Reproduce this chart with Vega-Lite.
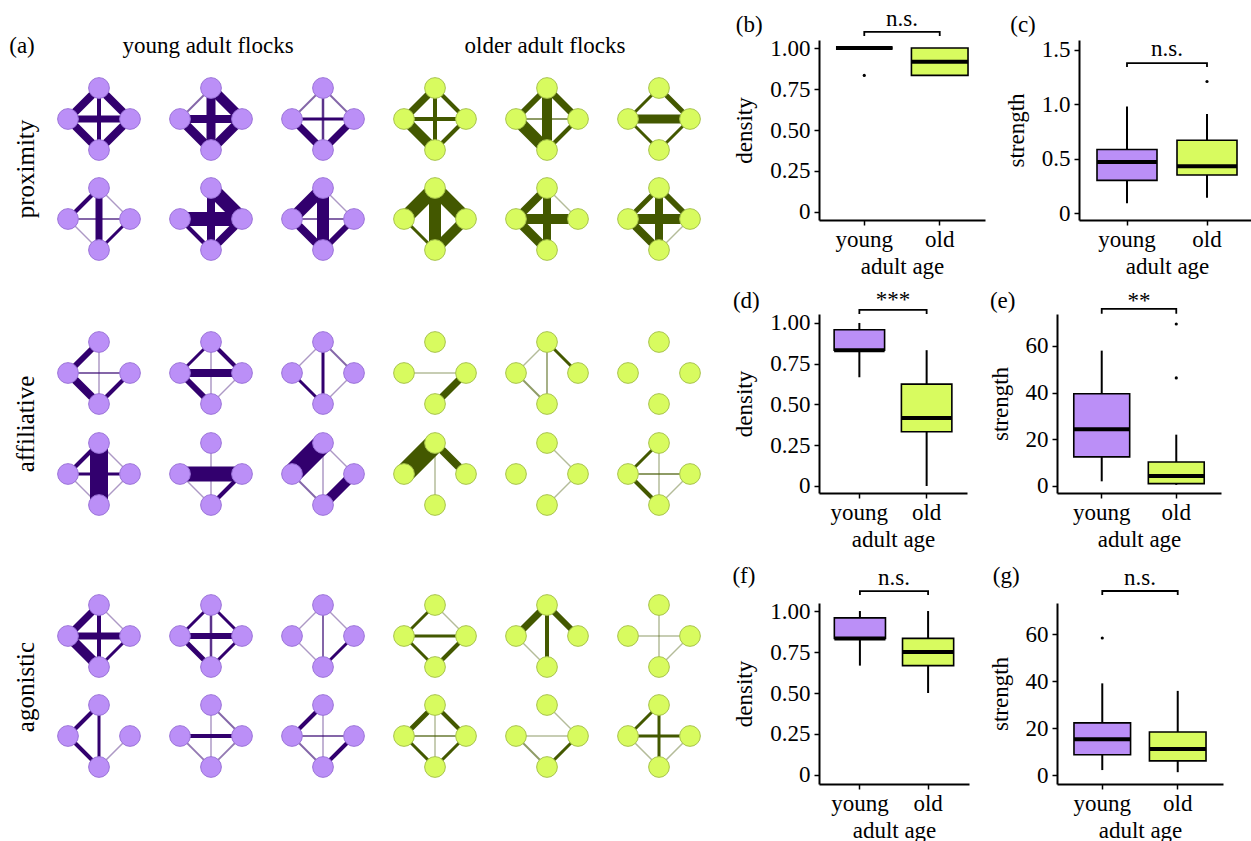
{
"$schema":"https://vega.github.io/schema/vega-lite/v6.json",
"background":"white",
"padding":0,
"columns":3,
"spacing":{"row":94,"column":72},
"align":"each",
"bounds":"flush",
"datasets":{
"n1":[
{"id":"11T","g":"young","x":98,"y":87},{"id":"11L","g":"young","x":67,"y":118},{"id":"11R","g":"young","x":129,"y":118},{"id":"11B","g":"young","x":98,"y":149},
{"id":"12T","g":"young","x":210,"y":87},{"id":"12L","g":"young","x":179,"y":118},{"id":"12R","g":"young","x":241,"y":118},{"id":"12B","g":"young","x":210,"y":149},
{"id":"13T","g":"young","x":322,"y":87},{"id":"13L","g":"young","x":291,"y":118},{"id":"13R","g":"young","x":353,"y":118},{"id":"13B","g":"young","x":322,"y":149},
{"id":"14T","g":"old","x":434,"y":87},{"id":"14L","g":"old","x":403,"y":118},{"id":"14R","g":"old","x":465,"y":118},{"id":"14B","g":"old","x":434,"y":149},
{"id":"15T","g":"old","x":546,"y":87},{"id":"15L","g":"old","x":515,"y":118},{"id":"15R","g":"old","x":577,"y":118},{"id":"15B","g":"old","x":546,"y":149},
{"id":"16T","g":"old","x":658,"y":87},{"id":"16L","g":"old","x":627,"y":118},{"id":"16R","g":"old","x":689,"y":118},{"id":"16B","g":"old","x":658,"y":149},
{"id":"21T","g":"young","x":98,"y":187},{"id":"21L","g":"young","x":67,"y":218},{"id":"21R","g":"young","x":129,"y":218},{"id":"21B","g":"young","x":98,"y":249},
{"id":"22T","g":"young","x":210,"y":187},{"id":"22L","g":"young","x":179,"y":218},{"id":"22R","g":"young","x":241,"y":218},{"id":"22B","g":"young","x":210,"y":249},
{"id":"23T","g":"young","x":322,"y":187},{"id":"23L","g":"young","x":291,"y":218},{"id":"23R","g":"young","x":353,"y":218},{"id":"23B","g":"young","x":322,"y":249},
{"id":"24T","g":"old","x":434,"y":187},{"id":"24L","g":"old","x":403,"y":218},{"id":"24R","g":"old","x":465,"y":218},{"id":"24B","g":"old","x":434,"y":249},
{"id":"25T","g":"old","x":546,"y":187},{"id":"25L","g":"old","x":515,"y":218},{"id":"25R","g":"old","x":577,"y":218},{"id":"25B","g":"old","x":546,"y":249},
{"id":"26T","g":"old","x":658,"y":187},{"id":"26L","g":"old","x":627,"y":218},{"id":"26R","g":"old","x":689,"y":218},{"id":"26B","g":"old","x":658,"y":249}
],
"n2":[
{"id":"31T","g":"young","x":98,"y":341},{"id":"31L","g":"young","x":67,"y":372},{"id":"31R","g":"young","x":129,"y":372},{"id":"31B","g":"young","x":98,"y":403},
{"id":"32T","g":"young","x":210,"y":341},{"id":"32L","g":"young","x":179,"y":372},{"id":"32R","g":"young","x":241,"y":372},{"id":"32B","g":"young","x":210,"y":403},
{"id":"33T","g":"young","x":322,"y":341},{"id":"33L","g":"young","x":291,"y":372},{"id":"33R","g":"young","x":353,"y":372},{"id":"33B","g":"young","x":322,"y":403},
{"id":"34T","g":"old","x":434,"y":341},{"id":"34L","g":"old","x":403,"y":372},{"id":"34R","g":"old","x":465,"y":372},{"id":"34B","g":"old","x":434,"y":403},
{"id":"35T","g":"old","x":546,"y":341},{"id":"35L","g":"old","x":515,"y":372},{"id":"35R","g":"old","x":577,"y":372},{"id":"35B","g":"old","x":546,"y":403},
{"id":"36T","g":"old","x":658,"y":341},{"id":"36L","g":"old","x":627,"y":372},{"id":"36R","g":"old","x":689,"y":372},{"id":"36B","g":"old","x":658,"y":403},
{"id":"41T","g":"young","x":98,"y":442},{"id":"41L","g":"young","x":67,"y":473},{"id":"41R","g":"young","x":129,"y":473},{"id":"41B","g":"young","x":98,"y":504},
{"id":"42T","g":"young","x":210,"y":442},{"id":"42L","g":"young","x":179,"y":473},{"id":"42R","g":"young","x":241,"y":473},{"id":"42B","g":"young","x":210,"y":504},
{"id":"43T","g":"young","x":322,"y":442},{"id":"43L","g":"young","x":291,"y":473},{"id":"43R","g":"young","x":353,"y":473},{"id":"43B","g":"young","x":322,"y":504},
{"id":"44T","g":"old","x":434,"y":442},{"id":"44L","g":"old","x":403,"y":473},{"id":"44R","g":"old","x":465,"y":473},{"id":"44B","g":"old","x":434,"y":504},
{"id":"45T","g":"old","x":546,"y":442},{"id":"45L","g":"old","x":515,"y":473},{"id":"45R","g":"old","x":577,"y":473},{"id":"45B","g":"old","x":546,"y":504},
{"id":"46T","g":"old","x":658,"y":442},{"id":"46L","g":"old","x":627,"y":473},{"id":"46R","g":"old","x":689,"y":473},{"id":"46B","g":"old","x":658,"y":504}
],
"n3":[
{"id":"51T","g":"young","x":98,"y":604},{"id":"51L","g":"young","x":67,"y":635},{"id":"51R","g":"young","x":129,"y":635},{"id":"51B","g":"young","x":98,"y":666},
{"id":"52T","g":"young","x":210,"y":604},{"id":"52L","g":"young","x":179,"y":635},{"id":"52R","g":"young","x":241,"y":635},{"id":"52B","g":"young","x":210,"y":666},
{"id":"53T","g":"young","x":322,"y":604},{"id":"53L","g":"young","x":291,"y":635},{"id":"53R","g":"young","x":353,"y":635},{"id":"53B","g":"young","x":322,"y":666},
{"id":"54T","g":"old","x":434,"y":604},{"id":"54L","g":"old","x":403,"y":635},{"id":"54R","g":"old","x":465,"y":635},{"id":"54B","g":"old","x":434,"y":666},
{"id":"55T","g":"old","x":546,"y":604},{"id":"55L","g":"old","x":515,"y":635},{"id":"55R","g":"old","x":577,"y":635},{"id":"55B","g":"old","x":546,"y":666},
{"id":"56T","g":"old","x":658,"y":604},{"id":"56L","g":"old","x":627,"y":635},{"id":"56R","g":"old","x":689,"y":635},{"id":"56B","g":"old","x":658,"y":666},
{"id":"61T","g":"young","x":98,"y":704},{"id":"61L","g":"young","x":67,"y":735},{"id":"61R","g":"young","x":129,"y":735},{"id":"61B","g":"young","x":98,"y":766},
{"id":"62T","g":"young","x":210,"y":704},{"id":"62L","g":"young","x":179,"y":735},{"id":"62R","g":"young","x":241,"y":735},{"id":"62B","g":"young","x":210,"y":766},
{"id":"63T","g":"young","x":322,"y":704},{"id":"63L","g":"young","x":291,"y":735},{"id":"63R","g":"young","x":353,"y":735},{"id":"63B","g":"young","x":322,"y":766},
{"id":"64T","g":"old","x":434,"y":704},{"id":"64L","g":"old","x":403,"y":735},{"id":"64R","g":"old","x":465,"y":735},{"id":"64B","g":"old","x":434,"y":766},
{"id":"65T","g":"old","x":546,"y":704},{"id":"65L","g":"old","x":515,"y":735},{"id":"65R","g":"old","x":577,"y":735},{"id":"65B","g":"old","x":546,"y":766},
{"id":"66T","g":"old","x":658,"y":704},{"id":"66L","g":"old","x":627,"y":735},{"id":"66R","g":"old","x":689,"y":735},{"id":"66B","g":"old","x":658,"y":766}
],
"e1":[
{"a":"11T","b":"11L","w":8},{"a":"11T","b":"11R","w":8},{"a":"11L","b":"11B","w":8},{"a":"11R","b":"11B","w":8},{"a":"11L","b":"11R","w":7},{"a":"11T","b":"11B","w":4},
{"a":"12T","b":"12L","w":2},{"a":"12T","b":"12R","w":10},{"a":"12L","b":"12B","w":9},{"a":"12R","b":"12B","w":9},{"a":"12L","b":"12R","w":8},{"a":"12T","b":"12B","w":9},
{"a":"13T","b":"13L","w":2},{"a":"13T","b":"13R","w":2},{"a":"13L","b":"13B","w":7},{"a":"13R","b":"13B","w":7},{"a":"13L","b":"13R","w":3},{"a":"13T","b":"13B","w":2.5},
{"a":"14T","b":"14L","w":7},{"a":"14T","b":"14R","w":4},{"a":"14L","b":"14B","w":10},{"a":"14R","b":"14B","w":4},{"a":"14L","b":"14R","w":4},{"a":"14T","b":"14B","w":4},
{"a":"15T","b":"15L","w":6},{"a":"15T","b":"15R","w":7},{"a":"15L","b":"15B","w":12},{"a":"15R","b":"15B","w":4},{"a":"15L","b":"15R","w":2},{"a":"15T","b":"15B","w":10},
{"a":"16T","b":"16L","w":3},{"a":"16T","b":"16R","w":5},{"a":"16L","b":"16B","w":3},{"a":"16R","b":"16B","w":3},{"a":"16L","b":"16R","w":9},
{"a":"21T","b":"21L","w":4},{"a":"21T","b":"21R","w":1.5},{"a":"21L","b":"21B","w":1.5},{"a":"21R","b":"21B","w":3},{"a":"21L","b":"21R","w":2},{"a":"21T","b":"21B","w":7},
{"a":"22T","b":"22R","w":14},{"a":"22L","b":"22B","w":4},{"a":"22R","b":"22B","w":8},{"a":"22L","b":"22R","w":14},{"a":"22T","b":"22B","w":8},
{"a":"23T","b":"23L","w":12},{"a":"23T","b":"23R","w":1.5},{"a":"23L","b":"23B","w":8},{"a":"23R","b":"23B","w":6},{"a":"23L","b":"23R","w":2},{"a":"23T","b":"23B","w":12},
{"a":"24T","b":"24L","w":14},{"a":"24T","b":"24R","w":14},{"a":"24L","b":"24B","w":3},{"a":"24R","b":"24B","w":10},{"a":"24T","b":"24B","w":12},
{"a":"25T","b":"25L","w":8},{"a":"25T","b":"25R","w":1.5},{"a":"25L","b":"25B","w":9},{"a":"25L","b":"25R","w":10},{"a":"25T","b":"25B","w":8},
{"a":"26T","b":"26L","w":5},{"a":"26T","b":"26R","w":6},{"a":"26L","b":"26B","w":8},{"a":"26R","b":"26B","w":1.5},{"a":"26L","b":"26R","w":10},{"a":"26T","b":"26B","w":8}
],
"e2":[
{"a":"31T","b":"31L","w":6},{"a":"31T","b":"31B","w":1.5},{"a":"31L","b":"31R","w":2},{"a":"31L","b":"31B","w":8},{"a":"31R","b":"31B","w":4},
{"a":"32T","b":"32L","w":3},{"a":"32T","b":"32R","w":4},{"a":"32T","b":"32B","w":1.5},{"a":"32L","b":"32R","w":8},{"a":"32L","b":"32B","w":6},{"a":"32R","b":"32B","w":1.5},
{"a":"33T","b":"33L","w":1.5},{"a":"33T","b":"33R","w":2},{"a":"33T","b":"33B","w":3},{"a":"33L","b":"33B","w":3},{"a":"33R","b":"33B","w":1.5},
{"a":"34L","b":"34R","w":1.5},{"a":"34R","b":"34B","w":7},
{"a":"35T","b":"35L","w":1.5},{"a":"35T","b":"35B","w":1.8},{"a":"35T","b":"35R","w":3},{"a":"35L","b":"35B","w":2},
{"a":"41T","b":"41L","w":4},{"a":"41T","b":"41R","w":1.5},{"a":"41L","b":"41R","w":3},{"a":"41L","b":"41B","w":1.5},{"a":"41R","b":"41B","w":1.5},{"a":"41T","b":"41B","w":18},
{"a":"42T","b":"42B","w":1.5},{"a":"42L","b":"42R","w":15},{"a":"42L","b":"42B","w":1.5},{"a":"42R","b":"42B","w":4},
{"a":"43T","b":"43L","w":20},{"a":"43T","b":"43R","w":1.5},{"a":"43T","b":"43B","w":1.5},{"a":"43L","b":"43B","w":2},{"a":"43R","b":"43B","w":10},
{"a":"44T","b":"44L","w":20},{"a":"44T","b":"44R","w":8},{"a":"44T","b":"44B","w":1.5},
{"a":"45T","b":"45R","w":1.5},{"a":"45R","b":"45B","w":1.5},
{"a":"46T","b":"46L","w":3},{"a":"46T","b":"46B","w":1.5},{"a":"46L","b":"46R","w":2},{"a":"46L","b":"46B","w":4},{"a":"46R","b":"46B","w":1.5}
],
"e3":[
{"a":"51T","b":"51L","w":7},{"a":"51T","b":"51R","w":1.5},{"a":"51T","b":"51B","w":4},{"a":"51L","b":"51R","w":7},{"a":"51L","b":"51B","w":10},{"a":"51R","b":"51B","w":3},
{"a":"52T","b":"52L","w":3},{"a":"52T","b":"52R","w":3},{"a":"52T","b":"52B","w":2.5},{"a":"52L","b":"52R","w":6},{"a":"52L","b":"52B","w":5},{"a":"52R","b":"52B","w":3},
{"a":"53T","b":"53L","w":1.5},{"a":"53T","b":"53R","w":1.5},{"a":"53T","b":"53B","w":2},{"a":"53L","b":"53B","w":1.5},{"a":"53R","b":"53B","w":3},
{"a":"54T","b":"54L","w":3},{"a":"54T","b":"54R","w":1.5},{"a":"54L","b":"54R","w":3},{"a":"54L","b":"54B","w":3},{"a":"54R","b":"54B","w":4},
{"a":"55T","b":"55L","w":7},{"a":"55T","b":"55R","w":6},{"a":"55T","b":"55B","w":4},{"a":"55L","b":"55B","w":1.5},
{"a":"56T","b":"56B","w":1.5},{"a":"56L","b":"56R","w":1.5},{"a":"56R","b":"56B","w":1.5},
{"a":"61T","b":"61L","w":4},{"a":"61T","b":"61B","w":3},{"a":"61L","b":"61B","w":4},{"a":"61R","b":"61B","w":1.5},
{"a":"62T","b":"62R","w":2},{"a":"62T","b":"62B","w":1.5},{"a":"62L","b":"62R","w":4},{"a":"62L","b":"62B","w":1.8},{"a":"62R","b":"62B","w":1.8},
{"a":"63T","b":"63L","w":4},{"a":"63T","b":"63B","w":1.5},{"a":"63L","b":"63R","w":2},{"a":"63L","b":"63B","w":2},{"a":"63R","b":"63B","w":4},
{"a":"64T","b":"64L","w":5},{"a":"64T","b":"64R","w":4},{"a":"64T","b":"64B","w":1.5},{"a":"64L","b":"64R","w":2},{"a":"64L","b":"64B","w":3},{"a":"64R","b":"64B","w":3},
{"a":"65T","b":"65R","w":1.5},{"a":"65L","b":"65R","w":1.5},{"a":"65L","b":"65B","w":2},{"a":"65R","b":"65B","w":3},
{"a":"66T","b":"66L","w":3},{"a":"66T","b":"66B","w":3},{"a":"66L","b":"66R","w":3},{"a":"66L","b":"66B","w":1.5},{"a":"66R","b":"66B","w":1.5}
],
"box":[
{"p":"b","age":"young","lower":1,"q1":1,"median":1,"q3":1,"upper":1},
{"p":"b","age":"old","lower":0.833,"q1":0.833,"median":0.917,"q3":1,"upper":1},
{"p":"c","age":"young","lower":0.09,"q1":0.3,"median":0.47,"q3":0.585,"upper":0.98},
{"p":"c","age":"old","lower":0.14,"q1":0.35,"median":0.43,"q3":0.67,"upper":0.91},
{"p":"d","age":"young","lower":0.667,"q1":0.833,"median":0.833,"q3":0.958,"upper":1},
{"p":"d","age":"old","lower":0,"q1":0.333,"median":0.417,"q3":0.625,"upper":0.833},
{"p":"e","age":"young","lower":2,"q1":12.5,"median":24.3,"q3":39.5,"upper":58},
{"p":"e","age":"old","lower":0.5,"q1":1,"median":4.3,"q3":10.3,"upper":22},
{"p":"f","age":"young","lower":0.667,"q1":0.833,"median":0.833,"q3":0.958,"upper":1},
{"p":"f","age":"old","lower":0.5,"q1":0.667,"median":0.75,"q3":0.833,"upper":1},
{"p":"g","age":"young","lower":2.1,"q1":8.6,"median":15.2,"q3":22.2,"upper":39},
{"p":"g","age":"old","lower":1.2,"q1":6,"median":11.1,"q3":18.3,"upper":35.8}
],
"out":[
{"p":"b","age":"young","v":0.833},{"p":"c","age":"old","v":1.21},{"p":"e","age":"old","v":46.3},{"p":"e","age":"old","v":69.4},{"p":"g","age":"young","v":58.3}
],
"br":[
{"p":"b","age":"young","v":1.073,"o":1},{"p":"b","age":"young","v":1.098,"o":2},{"p":"b","age":"old","v":1.098,"o":3},{"p":"b","age":"old","v":1.073,"o":4},
{"p":"c","age":"young","v":1.343,"o":1},{"p":"c","age":"young","v":1.38,"o":2},{"p":"c","age":"old","v":1.38,"o":3},{"p":"c","age":"old","v":1.343,"o":4},
{"p":"d","age":"young","v":1.055,"o":1},{"p":"d","age":"young","v":1.08,"o":2},{"p":"d","age":"old","v":1.08,"o":3},{"p":"d","age":"old","v":1.055,"o":4},
{"p":"e","age":"young","v":73.8,"o":1},{"p":"e","age":"young","v":75.9,"o":2},{"p":"e","age":"old","v":75.9,"o":3},{"p":"e","age":"old","v":73.8,"o":4},
{"p":"f","age":"young","v":1.098,"o":1},{"p":"f","age":"young","v":1.122,"o":2},{"p":"f","age":"old","v":1.122,"o":3},{"p":"f","age":"old","v":1.098,"o":4},
{"p":"g","age":"young","v":76.6,"o":1},{"p":"g","age":"young","v":78.3,"o":2},{"p":"g","age":"old","v":78.3,"o":3},{"p":"g","age":"old","v":76.6,"o":4}
],
"sig":[
{"p":"b","age":"young","v":1.134,"t":"n.s."},
{"p":"c","age":"young","v":1.444,"t":"n.s."},
{"p":"d","age":"young","v":1.098,"t":"***"},
{"p":"e","age":"young","v":76.3,"t":"**"},
{"p":"f","age":"young","v":1.159,"t":"n.s."},
{"p":"g","age":"young","v":80.9,"t":"n.s."}
],
"lab":[
{"p":"b","age":"young","v":1.1405,"t":"(b)"},
{"p":"c","age":"young","v":1.7346,"t":"(c)"},
{"p":"d","age":"young","v":1.1347,"t":"(d)"},
{"p":"e","age":"young","v":79.27,"t":"(e)"},
{"p":"f","age":"young","v":1.2137,"t":"(f)"},
{"p":"g","age":"young","v":84.69,"t":"(g)"}
]
},
"concat":[
{
"width":746,"height":180,
"layer":[
{"data":{"name":"e1"},
 "transform":[{"lookup":"a","from":{"data":{"name":"n1"},"key":"id","fields":["x","y","g"]},"as":["xa","ya","g"]},{"lookup":"b","from":{"data":{"name":"n1"},"key":"id","fields":["x","y"]},"as":["xb","yb"]}],
 "mark":{"type":"rule"},
 "encoding":{
  "x":{"field":"xa","type":"quantitative","scale":{"domain":[0,746],"nice":false,"zero":false},"axis":null},
  "y":{"field":"ya","type":"quantitative","scale":{"domain":[39,219],"reverse":true,"nice":false,"zero":false},"axis":null},
  "x2":{"field":"xb"},"y2":{"field":"yb"},
  "color":{"field":"g","type":"nominal","scale":{"domain":["young","old"],"range":["#32006e","#435800"]},"legend":null},
  "strokeWidth":{"field":"w","type":"quantitative","scale":{"domain":[0,20],"range":[0,20]},"legend":null},
  "opacity":{"field":"w","type":"quantitative","scale":{"domain":[1.5,3],"range":[0.4,1],"clamp":true},"legend":null}
 }},
{"data":{"name":"n1"},
 "mark":{"type":"circle","size":430,"strokeWidth":1,"opacity":1},
 "encoding":{
  "x":{"field":"x","type":"quantitative","scale":{"domain":[0,746],"nice":false,"zero":false},"axis":null},
  "y":{"field":"y","type":"quantitative","scale":{"domain":[39,219],"reverse":true,"nice":false,"zero":false},"axis":null},
  "fill":{"field":"g","type":"nominal","scale":{"domain":["young","old"],"range":["#bb8ff7","#d8fb5f"]},"legend":null},
  "stroke":{"field":"g","type":"nominal","scale":{"domain":["young","old"],"range":["#9b73d9","#a8c44c"]},"legend":null}
 }},
{"data":{"values":[{}]},"mark":{"type":"point","filled":true,"color":"white","size":1,"opacity":1},
 "encoding":{"x":{"datum":0,"type":"quantitative","scale":{"domain":[0,746],"nice":false,"zero":false},"axis":null},"y":{"datum":0,"type":"quantitative","scale":{"domain":[39,219],"reverse":true,"nice":false,"zero":false},"axis":null}}},
{"data":{"values":[{}]},"mark":{"type":"text","text":"(a)","fontSize":23,"align":"center","baseline":"middle"},
 "encoding":{"x":{"datum":21,"type":"quantitative","scale":{"domain":[0,746],"nice":false,"zero":false},"axis":null},"y":{"datum":45,"type":"quantitative","scale":{"domain":[39,219],"reverse":true,"nice":false,"zero":false},"axis":null}}},
{"data":{"values":[{}]},"mark":{"type":"text","text":"young adult flocks","fontSize":23,"align":"center","baseline":"middle"},
 "encoding":{"x":{"datum":207,"type":"quantitative","scale":{"domain":[0,746],"nice":false,"zero":false},"axis":null},"y":{"datum":45,"type":"quantitative","scale":{"domain":[39,219],"reverse":true,"nice":false,"zero":false},"axis":null}}},
{"data":{"values":[{}]},"mark":{"type":"text","text":"older adult flocks","fontSize":23,"align":"center","baseline":"middle"},
 "encoding":{"x":{"datum":544,"type":"quantitative","scale":{"domain":[0,746],"nice":false,"zero":false},"axis":null},"y":{"datum":45,"type":"quantitative","scale":{"domain":[39,219],"reverse":true,"nice":false,"zero":false},"axis":null}}},
{"data":{"values":[{}]},"mark":{"type":"text","text":"proximity","fontSize":25,"align":"center","baseline":"middle","angle":270},
 "encoding":{"x":{"datum":25,"type":"quantitative","scale":{"domain":[0,746],"nice":false,"zero":false},"axis":null},"y":{"datum":168,"type":"quantitative","scale":{"domain":[39,219],"reverse":true,"nice":false,"zero":false},"axis":null}}}
]
},
{
"width":166,"height":180,
"encoding":{"x":{"field":"age","type":"nominal","sort":["young","old"],"scale":{"type":"band","domain":["young","old"],"paddingInner":0.25,"paddingOuter":0.225},"axis":{"title":"adult age","labelAngle":0}}},
"layer":[
{"data":{"name":"box"},"transform":[{"filter":"datum.p=='b'"}],"mark":{"type":"rule","color":"#000","strokeWidth":2},
 "encoding":{"y":{"field":"lower","type":"quantitative","title":"density","scale":{"domain":[-0.049,1.049],"nice":false,"zero":false},"axis":{"values":[0,0.25,0.5,0.75,1],"labelExpr":"datum.value == 0 ? '0' : format(datum.value, '.2f')"}},"y2":{"field":"upper"}}},
{"data":{"name":"box"},"transform":[{"filter":"datum.p=='b'"}],"mark":{"type":"bar","stroke":"#000","strokeWidth":1.6},
 "encoding":{"y":{"field":"q1","type":"quantitative","title":"density","scale":{"domain":[-0.049,1.049],"nice":false,"zero":false}},"y2":{"field":"q3"},
  "fill":{"field":"age","type":"nominal","scale":{"domain":["young","old"],"range":["#bf8ff9","#d6fd5a"]},"legend":null}}},
{"data":{"name":"box"},"transform":[{"filter":"datum.p=='b'"}],"mark":{"type":"tick","color":"#000","thickness":4,"size":56.6,"opacity":1},
 "encoding":{"y":{"field":"median","type":"quantitative","title":"density","scale":{"domain":[-0.049,1.049],"nice":false,"zero":false}}}},
{"data":{"name":"out"},"transform":[{"filter":"datum.p=='b'"}],"mark":{"type":"point","filled":true,"color":"#000","size":10,"opacity":1},
 "encoding":{"y":{"field":"v","type":"quantitative","title":"density","scale":{"domain":[-0.049,1.049],"nice":false,"zero":false}}}},
{"data":{"name":"br"},"transform":[{"filter":"datum.p=='b'"}],"mark":{"type":"line","color":"#000","strokeWidth":1.8},
 "encoding":{"y":{"field":"v","type":"quantitative","title":"density","scale":{"domain":[-0.049,1.049],"nice":false,"zero":false}},"order":{"field":"o","type":"quantitative"}}},
{"data":{"name":"sig"},"transform":[{"filter":"datum.p=='b'"}],"mark":{"type":"text","dx":37.7,"fontSize":23,"align":"center","baseline":"alphabetic"},
 "encoding":{"y":{"field":"v","type":"quantitative","title":"density","scale":{"domain":[-0.049,1.049],"nice":false,"zero":false}},"text":{"field":"t"}}},
{"data":{"name":"lab"},"transform":[{"filter":"datum.p=='b'"}],"mark":{"type":"text","dx":-115,"fontSize":23,"align":"center","baseline":"middle"},
 "encoding":{"y":{"field":"v","type":"quantitative","title":"density","scale":{"domain":[-0.049,1.049],"nice":false,"zero":false}},"text":{"field":"t"}}}
]
},
{
"width":198,"height":180,
"encoding":{"x":{"field":"age","type":"nominal","sort":["young","old"],"scale":{"type":"band","domain":["young","old"],"range":[22,198],"paddingInner":0.25,"paddingOuter":0.225},"axis":{"title":"adult age","labelAngle":0}}},
"layer":[
{"data":{"name":"box"},"transform":[{"filter":"datum.p=='c'"}],"mark":{"type":"rule","color":"#000","strokeWidth":2},
 "encoding":{"y":{"field":"lower","type":"quantitative","title":"strength","scale":{"domain":[-0.0644,1.592],"nice":false,"zero":false},"axis":{"offset":-22,"values":[0,0.5,1,1.5],"labelExpr":"datum.value == 0 ? '0' : format(datum.value, '.1f')"}},"y2":{"field":"upper"}}},
{"data":{"name":"box"},"transform":[{"filter":"datum.p=='c'"}],"mark":{"type":"bar","stroke":"#000","strokeWidth":1.6},
 "encoding":{"y":{"field":"q1","type":"quantitative","title":"strength","scale":{"domain":[-0.0644,1.592],"nice":false,"zero":false}},"y2":{"field":"q3"},
  "fill":{"field":"age","type":"nominal","scale":{"domain":["young","old"],"range":["#bf8ff9","#d6fd5a"]},"legend":null}}},
{"data":{"name":"box"},"transform":[{"filter":"datum.p=='c'"}],"mark":{"type":"tick","color":"#000","thickness":4,"size":60,"opacity":1},
 "encoding":{"y":{"field":"median","type":"quantitative","title":"strength","scale":{"domain":[-0.0644,1.592],"nice":false,"zero":false}}}},
{"data":{"name":"out"},"transform":[{"filter":"datum.p=='c'"}],"mark":{"type":"point","filled":true,"color":"#000","size":10,"opacity":1},
 "encoding":{"y":{"field":"v","type":"quantitative","title":"strength","scale":{"domain":[-0.0644,1.592],"nice":false,"zero":false}}}},
{"data":{"name":"br"},"transform":[{"filter":"datum.p=='c'"}],"mark":{"type":"line","color":"#000","strokeWidth":1.8},
 "encoding":{"y":{"field":"v","type":"quantitative","title":"strength","scale":{"domain":[-0.0644,1.592],"nice":false,"zero":false}},"order":{"field":"o","type":"quantitative"}}},
{"data":{"name":"sig"},"transform":[{"filter":"datum.p=='c'"}],"mark":{"type":"text","dx":40,"fontSize":23,"align":"center","baseline":"alphabetic"},
 "encoding":{"y":{"field":"v","type":"quantitative","title":"strength","scale":{"domain":[-0.0644,1.592],"nice":false,"zero":false}},"text":{"field":"t"}}},
{"data":{"name":"lab"},"transform":[{"filter":"datum.p=='c'"}],"mark":{"type":"text","dx":-104,"fontSize":23,"align":"center","baseline":"middle"},
 "encoding":{"y":{"field":"v","type":"quantitative","title":"strength","scale":{"domain":[-0.0644,1.592],"nice":false,"zero":false}},"text":{"field":"t"}}}
]
},
{
"width":746,"height":195,
"layer":[
{"data":{"name":"e2"},
 "transform":[{"lookup":"a","from":{"data":{"name":"n2"},"key":"id","fields":["x","y","g"]},"as":["xa","ya","g"]},{"lookup":"b","from":{"data":{"name":"n2"},"key":"id","fields":["x","y"]},"as":["xb","yb"]}],
 "mark":{"type":"rule"},
 "encoding":{
  "x":{"field":"xa","type":"quantitative","scale":{"domain":[0,746],"nice":false,"zero":false},"axis":null},
  "y":{"field":"ya","type":"quantitative","scale":{"domain":[313,508],"reverse":true,"nice":false,"zero":false},"axis":null},
  "x2":{"field":"xb"},"y2":{"field":"yb"},
  "color":{"field":"g","type":"nominal","scale":{"domain":["young","old"],"range":["#32006e","#435800"]},"legend":null},
  "strokeWidth":{"field":"w","type":"quantitative","scale":{"domain":[0,20],"range":[0,20]},"legend":null},
  "opacity":{"field":"w","type":"quantitative","scale":{"domain":[1.5,3],"range":[0.4,1],"clamp":true},"legend":null}
 }},
{"data":{"name":"n2"},
 "mark":{"type":"circle","size":430,"strokeWidth":1,"opacity":1},
 "encoding":{
  "x":{"field":"x","type":"quantitative","scale":{"domain":[0,746],"nice":false,"zero":false},"axis":null},
  "y":{"field":"y","type":"quantitative","scale":{"domain":[313,508],"reverse":true,"nice":false,"zero":false},"axis":null},
  "fill":{"field":"g","type":"nominal","scale":{"domain":["young","old"],"range":["#bb8ff7","#d8fb5f"]},"legend":null},
  "stroke":{"field":"g","type":"nominal","scale":{"domain":["young","old"],"range":["#9b73d9","#a8c44c"]},"legend":null}
 }},
{"data":{"values":[{}]},"mark":{"type":"text","text":"affiliative","fontSize":25,"align":"center","baseline":"middle","angle":270},
 "encoding":{"x":{"datum":25,"type":"quantitative","scale":{"domain":[0,746],"nice":false,"zero":false},"axis":null},"y":{"datum":423,"type":"quantitative","scale":{"domain":[313,508],"reverse":true,"nice":false,"zero":false},"axis":null}}}
]
},
{
"width":148,"height":179,
"encoding":{"x":{"field":"age","type":"nominal","sort":["young","old"],"scale":{"type":"band","domain":["young","old"],"paddingInner":0.25,"paddingOuter":0.225},"axis":{"title":"adult age","labelAngle":0}}},
"layer":[
{"data":{"name":"box"},"transform":[{"filter":"datum.p=='d'"}],"mark":{"type":"rule","color":"#000","strokeWidth":2},
 "encoding":{"y":{"field":"lower","type":"quantitative","title":"density","scale":{"domain":[-0.043,1.055],"nice":false,"zero":false},"axis":{"values":[0,0.25,0.5,0.75,1],"labelExpr":"datum.value == 0 ? '0' : format(datum.value, '.2f')"}},"y2":{"field":"upper"}}},
{"data":{"name":"box"},"transform":[{"filter":"datum.p=='d'"}],"mark":{"type":"bar","stroke":"#000","strokeWidth":1.6},
 "encoding":{"y":{"field":"q1","type":"quantitative","title":"density","scale":{"domain":[-0.043,1.055],"nice":false,"zero":false}},"y2":{"field":"q3"},
  "fill":{"field":"age","type":"nominal","scale":{"domain":["young","old"],"range":["#bf8ff9","#d6fd5a"]},"legend":null}}},
{"data":{"name":"box"},"transform":[{"filter":"datum.p=='d'"}],"mark":{"type":"tick","color":"#000","thickness":4,"size":50.5,"opacity":1},
 "encoding":{"y":{"field":"median","type":"quantitative","title":"density","scale":{"domain":[-0.043,1.055],"nice":false,"zero":false}}}},
{"data":{"name":"br"},"transform":[{"filter":"datum.p=='d'"}],"mark":{"type":"line","color":"#000","strokeWidth":1.8},
 "encoding":{"y":{"field":"v","type":"quantitative","title":"density","scale":{"domain":[-0.043,1.055],"nice":false,"zero":false}},"order":{"field":"o","type":"quantitative"}}},
{"data":{"name":"sig"},"transform":[{"filter":"datum.p=='d'"}],"mark":{"type":"text","dx":33.6,"fontSize":23,"align":"center","baseline":"alphabetic"},
 "encoding":{"y":{"field":"v","type":"quantitative","title":"density","scale":{"domain":[-0.043,1.055],"nice":false,"zero":false}},"text":{"field":"t"}}},
{"data":{"name":"lab"},"transform":[{"filter":"datum.p=='d'"}],"mark":{"type":"text","dx":-113,"fontSize":23,"align":"center","baseline":"middle"},
 "encoding":{"y":{"field":"v","type":"quantitative","title":"density","scale":{"domain":[-0.043,1.055],"nice":false,"zero":false}},"text":{"field":"t"}}}
]
},
{
"width":164,"height":179,
"encoding":{"x":{"field":"age","type":"nominal","sort":["young","old"],"scale":{"type":"band","domain":["young","old"],"paddingInner":0.25,"paddingOuter":0.225},"axis":{"title":"adult age","labelAngle":0}}},
"layer":[
{"data":{"name":"box"},"transform":[{"filter":"datum.p=='e'"}],"mark":{"type":"rule","color":"#000","strokeWidth":2},
 "encoding":{"y":{"field":"lower","type":"quantitative","title":"strength","scale":{"domain":[-3.0,73.7],"nice":false,"zero":false},"axis":{"values":[0,20,40,60]}},"y2":{"field":"upper"}}},
{"data":{"name":"box"},"transform":[{"filter":"datum.p=='e'"}],"mark":{"type":"bar","stroke":"#000","strokeWidth":1.6},
 "encoding":{"y":{"field":"q1","type":"quantitative","title":"strength","scale":{"domain":[-3.0,73.7],"nice":false,"zero":false}},"y2":{"field":"q3"},
  "fill":{"field":"age","type":"nominal","scale":{"domain":["young","old"],"range":["#bf8ff9","#d6fd5a"]},"legend":null}}},
{"data":{"name":"box"},"transform":[{"filter":"datum.p=='e'"}],"mark":{"type":"tick","color":"#000","thickness":4,"size":55.9,"opacity":1},
 "encoding":{"y":{"field":"median","type":"quantitative","title":"strength","scale":{"domain":[-3.0,73.7],"nice":false,"zero":false}}}},
{"data":{"name":"out"},"transform":[{"filter":"datum.p=='e'"}],"mark":{"type":"point","filled":true,"color":"#000","size":10,"opacity":1},
 "encoding":{"y":{"field":"v","type":"quantitative","title":"strength","scale":{"domain":[-3.0,73.7],"nice":false,"zero":false}}}},
{"data":{"name":"br"},"transform":[{"filter":"datum.p=='e'"}],"mark":{"type":"line","color":"#000","strokeWidth":1.8},
 "encoding":{"y":{"field":"v","type":"quantitative","title":"strength","scale":{"domain":[-3.0,73.7],"nice":false,"zero":false}},"order":{"field":"o","type":"quantitative"}}},
{"data":{"name":"sig"},"transform":[{"filter":"datum.p=='e'"}],"mark":{"type":"text","dx":37.3,"fontSize":23,"align":"center","baseline":"alphabetic"},
 "encoding":{"y":{"field":"v","type":"quantitative","title":"strength","scale":{"domain":[-3.0,73.7],"nice":false,"zero":false}},"text":{"field":"t"}}},
{"data":{"name":"lab"},"transform":[{"filter":"datum.p=='e'"}],"mark":{"type":"text","dx":-99,"fontSize":23,"align":"center","baseline":"middle"},
 "encoding":{"y":{"field":"v","type":"quantitative","title":"strength","scale":{"domain":[-3.0,73.7],"nice":false,"zero":false}},"text":{"field":"t"}}}
]
},
{
"width":746,"height":181,
"layer":[
{"data":{"name":"e3"},
 "transform":[{"lookup":"a","from":{"data":{"name":"n3"},"key":"id","fields":["x","y","g"]},"as":["xa","ya","g"]},{"lookup":"b","from":{"data":{"name":"n3"},"key":"id","fields":["x","y"]},"as":["xb","yb"]}],
 "mark":{"type":"rule"},
 "encoding":{
  "x":{"field":"xa","type":"quantitative","scale":{"domain":[0,746],"nice":false,"zero":false},"axis":null},
  "y":{"field":"ya","type":"quantitative","scale":{"domain":[602,783],"reverse":true,"nice":false,"zero":false},"axis":null},
  "x2":{"field":"xb"},"y2":{"field":"yb"},
  "color":{"field":"g","type":"nominal","scale":{"domain":["young","old"],"range":["#32006e","#435800"]},"legend":null},
  "strokeWidth":{"field":"w","type":"quantitative","scale":{"domain":[0,20],"range":[0,20]},"legend":null},
  "opacity":{"field":"w","type":"quantitative","scale":{"domain":[1.5,3],"range":[0.4,1],"clamp":true},"legend":null}
 }},
{"data":{"name":"n3"},
 "mark":{"type":"circle","size":430,"strokeWidth":1,"opacity":1},
 "encoding":{
  "x":{"field":"x","type":"quantitative","scale":{"domain":[0,746],"nice":false,"zero":false},"axis":null},
  "y":{"field":"y","type":"quantitative","scale":{"domain":[602,783],"reverse":true,"nice":false,"zero":false},"axis":null},
  "fill":{"field":"g","type":"nominal","scale":{"domain":["young","old"],"range":["#bb8ff7","#d8fb5f"]},"legend":null},
  "stroke":{"field":"g","type":"nominal","scale":{"domain":["young","old"],"range":["#9b73d9","#a8c44c"]},"legend":null}
 }},
{"data":{"values":[{}]},"mark":{"type":"text","text":"agonistic","fontSize":25,"align":"center","baseline":"middle","angle":270},
 "encoding":{"x":{"datum":25,"type":"quantitative","scale":{"domain":[0,746],"nice":false,"zero":false},"axis":null},"y":{"datum":686,"type":"quantitative","scale":{"domain":[602,783],"reverse":true,"nice":false,"zero":false},"axis":null}}}
]
},
{
"width":150,"height":181,
"encoding":{"x":{"field":"age","type":"nominal","sort":["young","old"],"scale":{"type":"band","domain":["young","old"],"paddingInner":0.25,"paddingOuter":0.225},"axis":{"title":"adult age","labelAngle":0}}},
"layer":[
{"data":{"name":"box"},"transform":[{"filter":"datum.p=='f'"}],"mark":{"type":"rule","color":"#000","strokeWidth":2},
 "encoding":{"y":{"field":"lower","type":"quantitative","title":"density","scale":{"domain":[-0.055,1.049],"nice":false,"zero":false},"axis":{"values":[0,0.25,0.5,0.75,1],"labelExpr":"datum.value == 0 ? '0' : format(datum.value, '.2f')"}},"y2":{"field":"upper"}}},
{"data":{"name":"box"},"transform":[{"filter":"datum.p=='f'"}],"mark":{"type":"bar","stroke":"#000","strokeWidth":1.6},
 "encoding":{"y":{"field":"q1","type":"quantitative","title":"density","scale":{"domain":[-0.055,1.049],"nice":false,"zero":false}},"y2":{"field":"q3"},
  "fill":{"field":"age","type":"nominal","scale":{"domain":["young","old"],"range":["#bf8ff9","#d6fd5a"]},"legend":null}}},
{"data":{"name":"box"},"transform":[{"filter":"datum.p=='f'"}],"mark":{"type":"tick","color":"#000","thickness":4,"size":51.1,"opacity":1},
 "encoding":{"y":{"field":"median","type":"quantitative","title":"density","scale":{"domain":[-0.055,1.049],"nice":false,"zero":false}}}},
{"data":{"name":"br"},"transform":[{"filter":"datum.p=='f'"}],"mark":{"type":"line","color":"#000","strokeWidth":1.8},
 "encoding":{"y":{"field":"v","type":"quantitative","title":"density","scale":{"domain":[-0.055,1.049],"nice":false,"zero":false}},"order":{"field":"o","type":"quantitative"}}},
{"data":{"name":"sig"},"transform":[{"filter":"datum.p=='f'"}],"mark":{"type":"text","dx":34.1,"fontSize":23,"align":"center","baseline":"alphabetic"},
 "encoding":{"y":{"field":"v","type":"quantitative","title":"density","scale":{"domain":[-0.055,1.049],"nice":false,"zero":false}},"text":{"field":"t"}}},
{"data":{"name":"lab"},"transform":[{"filter":"datum.p=='f'"}],"mark":{"type":"text","dx":-116,"fontSize":23,"align":"center","baseline":"middle"},
 "encoding":{"y":{"field":"v","type":"quantitative","title":"density","scale":{"domain":[-0.055,1.049],"nice":false,"zero":false}},"text":{"field":"t"}}}
]
},
{
"width":166,"height":181,
"encoding":{"x":{"field":"age","type":"nominal","sort":["young","old"],"scale":{"type":"band","domain":["young","old"],"paddingInner":0.25,"paddingOuter":0.225},"axis":{"title":"adult age","labelAngle":0}}},
"layer":[
{"data":{"name":"box"},"transform":[{"filter":"datum.p=='g'"}],"mark":{"type":"rule","color":"#000","strokeWidth":2},
 "encoding":{"y":{"field":"lower","type":"quantitative","title":"strength","scale":{"domain":[-3.83,73.2],"nice":false,"zero":false},"axis":{"values":[0,20,40,60]}},"y2":{"field":"upper"}}},
{"data":{"name":"box"},"transform":[{"filter":"datum.p=='g'"}],"mark":{"type":"bar","stroke":"#000","strokeWidth":1.6},
 "encoding":{"y":{"field":"q1","type":"quantitative","title":"strength","scale":{"domain":[-3.83,73.2],"nice":false,"zero":false}},"y2":{"field":"q3"},
  "fill":{"field":"age","type":"nominal","scale":{"domain":["young","old"],"range":["#bf8ff9","#d6fd5a"]},"legend":null}}},
{"data":{"name":"box"},"transform":[{"filter":"datum.p=='g'"}],"mark":{"type":"tick","color":"#000","thickness":4,"size":56.6,"opacity":1},
 "encoding":{"y":{"field":"median","type":"quantitative","title":"strength","scale":{"domain":[-3.83,73.2],"nice":false,"zero":false}}}},
{"data":{"name":"out"},"transform":[{"filter":"datum.p=='g'"}],"mark":{"type":"point","filled":true,"color":"#000","size":10,"opacity":1},
 "encoding":{"y":{"field":"v","type":"quantitative","title":"strength","scale":{"domain":[-3.83,73.2],"nice":false,"zero":false}}}},
{"data":{"name":"br"},"transform":[{"filter":"datum.p=='g'"}],"mark":{"type":"line","color":"#000","strokeWidth":1.8},
 "encoding":{"y":{"field":"v","type":"quantitative","title":"strength","scale":{"domain":[-3.83,73.2],"nice":false,"zero":false}},"order":{"field":"o","type":"quantitative"}}},
{"data":{"name":"sig"},"transform":[{"filter":"datum.p=='g'"}],"mark":{"type":"text","dx":37.7,"fontSize":23,"align":"center","baseline":"alphabetic"},
 "encoding":{"y":{"field":"v","type":"quantitative","title":"strength","scale":{"domain":[-3.83,73.2],"nice":false,"zero":false}},"text":{"field":"t"}}},
{"data":{"name":"lab"},"transform":[{"filter":"datum.p=='g'"}],"mark":{"type":"text","dx":-96,"fontSize":23,"align":"center","baseline":"middle"},
 "encoding":{"y":{"field":"v","type":"quantitative","title":"strength","scale":{"domain":[-3.83,73.2],"nice":false,"zero":false}},"text":{"field":"t"}}}
]
}
],
"config":{
 "view":{"stroke":null},
 "font":"Liberation Serif",
 "axis":{"grid":false,"domainColor":"#000","domainWidth":2,"tickColor":"#000","tickWidth":1.5,"tickSize":5,"labelFont":"Liberation Serif","labelFontSize":23,"labelColor":"#000","titleFont":"Liberation Serif","titleFontSize":23,"titleFontWeight":"normal","titleColor":"#000","labelPadding":3},
 "axisX":{"labelAngle":0,"titlePadding":4},
 "axisY":{"titlePadding":13,"labelPadding":4},
 "title":{"font":"Liberation Serif","fontSize":23,"fontWeight":"normal","color":"#000"},
 "text":{"font":"Liberation Serif","fontSize":23,"color":"#000"}
}
}
